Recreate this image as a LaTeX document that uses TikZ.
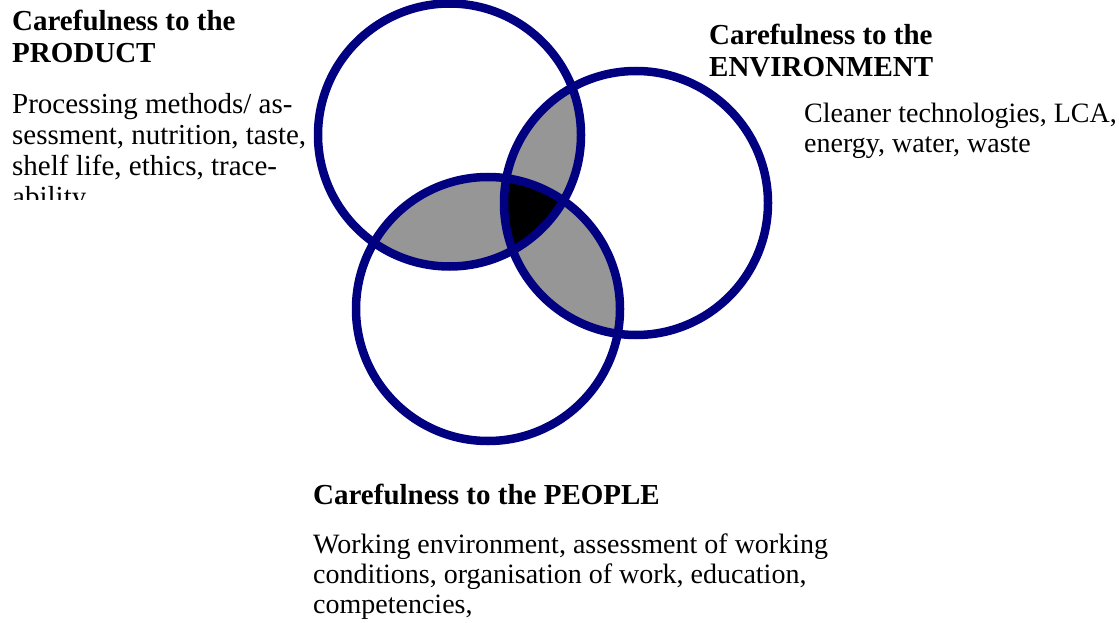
\documentclass[tikz,border=0pt]{standalone}
\usepackage{fontspec}
\setmainfont{Liberation Serif}
\usetikzlibrary{positioning}
\definecolor{ringblue}{RGB}{0,0,128}
\definecolor{overlapgray}{RGB}{150,150,150}

\begin{document}
\begin{tikzpicture}[x=1pt, y=-1pt,
  ring/.style={draw=ringblue, line width=8.5pt},
  head/.style={font=\fontsize{29}{32}\selectfont\bfseries, align=left, inner sep=0pt, anchor=base west},
  body/.style={font=\fontsize{28}{30}\selectfont, align=left, inner sep=0pt, anchor=base west}]
  \useasboundingbox (0,0) rectangle (1119,623);

  % centres of the three rings
  \coordinate (prod) at (449.5,135);
  \coordinate (env) at (636,203);
  \coordinate (ppl) at (488,309);

  % pairwise overlaps in grey
  \begin{scope}
    \clip (prod) circle (131.5);
    \fill[overlapgray] (env) circle (132);
    \fill[overlapgray] (ppl) circle (132);
  \end{scope}
  \begin{scope}
    \clip (env) circle (132);
    \fill[overlapgray] (ppl) circle (132);
  \end{scope}
  % common core in black
  \begin{scope}
    \clip (prod) circle (131.5);
    \clip (env) circle (132);
    \fill[black] (ppl) circle (132);
  \end{scope}

  \draw[ring] (prod) circle (131.5);
  \draw[ring] (env) circle (132);
  \draw[ring] (ppl) circle (132);

  % labels (base anchor sits on the last line)
  \node[head] (prodhead) at (12,63) {Carefulness to the\\PRODUCT};
  \begin{scope}
    \clip (0,0) rectangle (312,199);
    \node[body, font=\fontsize{29}{31}\selectfont] (prodtext) at (12,206) {Processing methods/ as-\\sessment, nutrition, taste,\\shelf life, ethics, trace-\\ability};
  \end{scope}

  \node[head] (envhead) at (709,77) {Carefulness to the\\ENVIRONMENT};
  \node[body] (envtext) at (804,153) {Cleaner technologies, LCA,\\energy, water, waste};

  \node[head] (pplhead) at (313,504) {Carefulness to the PEOPLE};
  \node[body] (ppltext) at (313,613) {Working environment, assessment of working\\conditions, organisation of work, education,\\competencies,};
\end{tikzpicture}
\end{document}
